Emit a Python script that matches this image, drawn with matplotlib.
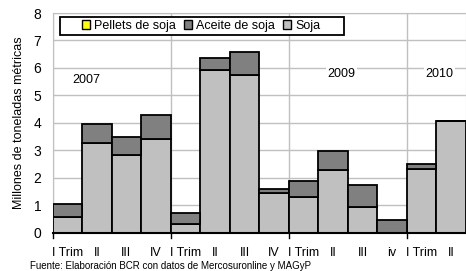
import matplotlib.pyplot as plt
import numpy as np
from matplotlib.patches import Patch, Rectangle

plt.rcParams['font.family'] = ['Liberation Sans Narrow', 'Liberation Sans', 'DejaVu Sans']

quarters = ['I Trim', 'II', 'III', 'IV', 'I Trim', 'II', 'III', 'IV',
            'I Trim', 'II', 'III', 'iv', 'I Trim', 'II']
soja = [0.55, 3.25, 2.82, 3.40, 0.31, 5.91, 5.73, 1.43, 1.30, 2.28, 0.94, 0.0, 2.31, 4.05]
aceite = [0.50, 0.70, 0.67, 0.88, 0.41, 0.46, 0.85, 0.14, 0.58, 0.70, 0.79, 0.46, 0.20, 0.02]
pellets = [0.0] * 14
years = ['2007', '2009', '2010']
year_pos = [(0.16, 5.56), (8.8, 5.78), (12.13, 5.78)]

fig = plt.figure(figsize=(4.66, 2.71), dpi=100)
ax = fig.add_axes([0.1127, 0.142, 0.8873, 0.81])

x = np.arange(len(quarters))
ew = 1.3
ax.bar(x, soja, width=1.0, color='#C0C0C0', edgecolor='black', linewidth=ew, zorder=3)
ax.bar(x, aceite, width=1.0, bottom=soja, color='#808080', edgecolor='black', linewidth=ew, zorder=3)
bot2 = [s + a for s, a in zip(soja, aceite)]
ax.bar(x, pellets, width=1.0, bottom=bot2, color='#FFFF00', edgecolor='black', linewidth=0, zorder=3)

ax.set_xlim(-0.5, 13.5)
ax.set_ylim(0, 8)
ax.set_yticks(range(9))
ax.set_xticks(x)
ax.set_xticklabels(quarters, fontsize=9)
ax.tick_params(axis='x', length=0, pad=10.5)
ax.tick_params(axis='y', length=0, labelsize=10, pad=8)

# year separators
for b in [-0.5, 3.5, 7.5, 11.5]:
    ax.axvline(b, color='#C0C0C0', linewidth=1, zorder=1)
    ax.plot([b, b], [0, -0.2], color='black', linewidth=1, clip_on=False, zorder=4)
ax.yaxis.grid(True, color='#C0C0C0', linewidth=1, zorder=1)

for s in ['top', 'left', 'right']:
    ax.spines[s].set_color('#C0C0C0')
ax.spines['bottom'].set_color('black')
ax.spines['bottom'].set_linewidth(1.5)
ax.spines['bottom'].set_zorder(5)

for yr, (px, py) in zip(years, year_pos):
    ax.text(px, py, yr, fontsize=9, ha='left', va='center', zorder=2,
            bbox=dict(facecolor='white', edgecolor='none', pad=1))

ax.set_ylabel('Millones de toneladas métricas', fontsize=9, labelpad=6)

# legend box drawn by hand
ax.add_patch(Rectangle((0.018, 0.900), 0.687, 0.082, transform=ax.transAxes,
                       facecolor='white', edgecolor='black', linewidth=1.3,
                       zorder=6, clip_on=False))
handles = [Patch(facecolor='#FFFF00', edgecolor='black'),
           Patch(facecolor='#808080', edgecolor='black'),
           Patch(facecolor='#C0C0C0', edgecolor='black')]
leg = ax.legend(handles, ['Pellets de soja', 'Aceite de soja', 'Soja'], ncol=3,
                loc='center left', bbox_to_anchor=(0.072, 0.941), fontsize=9,
                frameon=False, handlelength=0.65, handleheight=0.65, handletextpad=0.3,
                columnspacing=0.65, borderpad=0, borderaxespad=0)
leg.set_zorder(7)

fig.text(0.064, 0.008, 'Fuente: Elaboración BCR con datos de Mercosuronline y MAGyP', fontsize=7)

fig.savefig('out.png', dpi=100)
